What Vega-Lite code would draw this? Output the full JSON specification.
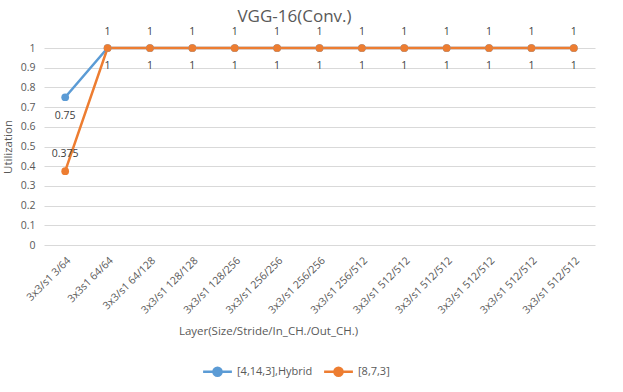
{
  "$schema": "https://vega.github.io/schema/vega-lite/v6.json",
  "autosize": {"type": "none"},
  "padding": {"left": 44, "top": 48, "right": 28, "bottom": 147},
  "width": 551,
  "height": 197,
  "background": "white",
  "title": {"text": "VGG-16(Conv.)", "fontSize": 17, "font": "Open Sans", "fontWeight": "normal", "color": "#595959", "anchor": "middle", "dx": -25, "offset": 1},
  "data": {"values": [
    {"series": "[4,14,3],Hybrid", "idx": 0, "layer": "3x3/s1 3/64", "util": 0.75},
    {"series": "[4,14,3],Hybrid", "idx": 1, "layer": "3x3s1 64/64", "util": 1},
    {"series": "[4,14,3],Hybrid", "idx": 2, "layer": "3x3/s1 64/128", "util": 1},
    {"series": "[4,14,3],Hybrid", "idx": 3, "layer": "3x3/s1 128/128", "util": 1},
    {"series": "[4,14,3],Hybrid", "idx": 4, "layer": "3x3/s1 128/256", "util": 1},
    {"series": "[4,14,3],Hybrid", "idx": 5, "layer": "3x3/s1 256/256", "util": 1},
    {"series": "[4,14,3],Hybrid", "idx": 6, "layer": "3x3/s1 256/256", "util": 1},
    {"series": "[4,14,3],Hybrid", "idx": 7, "layer": "3x3/s1 256/512", "util": 1},
    {"series": "[4,14,3],Hybrid", "idx": 8, "layer": "3x3/s1 512/512", "util": 1},
    {"series": "[4,14,3],Hybrid", "idx": 9, "layer": "3x3/s1 512/512", "util": 1},
    {"series": "[4,14,3],Hybrid", "idx": 10, "layer": "3x3/s1 512/512", "util": 1},
    {"series": "[4,14,3],Hybrid", "idx": 11, "layer": "3x3/s1 512/512", "util": 1},
    {"series": "[4,14,3],Hybrid", "idx": 12, "layer": "3x3/s1 512/512", "util": 1},
    {"series": "[8,7,3]", "idx": 0, "layer": "3x3/s1 3/64", "util": 0.375},
    {"series": "[8,7,3]", "idx": 1, "layer": "3x3s1 64/64", "util": 1},
    {"series": "[8,7,3]", "idx": 2, "layer": "3x3/s1 64/128", "util": 1},
    {"series": "[8,7,3]", "idx": 3, "layer": "3x3/s1 128/128", "util": 1},
    {"series": "[8,7,3]", "idx": 4, "layer": "3x3/s1 128/256", "util": 1},
    {"series": "[8,7,3]", "idx": 5, "layer": "3x3/s1 256/256", "util": 1},
    {"series": "[8,7,3]", "idx": 6, "layer": "3x3/s1 256/256", "util": 1},
    {"series": "[8,7,3]", "idx": 7, "layer": "3x3/s1 256/512", "util": 1},
    {"series": "[8,7,3]", "idx": 8, "layer": "3x3/s1 512/512", "util": 1},
    {"series": "[8,7,3]", "idx": 9, "layer": "3x3/s1 512/512", "util": 1},
    {"series": "[8,7,3]", "idx": 10, "layer": "3x3/s1 512/512", "util": 1},
    {"series": "[8,7,3]", "idx": 11, "layer": "3x3/s1 512/512", "util": 1},
    {"series": "[8,7,3]", "idx": 12, "layer": "3x3/s1 512/512", "util": 1}
  ]},
  "encoding": {
    "x": {
      "field": "idx", "type": "ordinal",
      "scale": {"type": "point", "padding": 0.5},
      "axis": {
        "title": "Layer(Size/Stride/In_CH./Out_CH.)",
        "labelExpr": "['3x3/s1 3/64','3x3s1 64/64','3x3/s1 64/128','3x3/s1 128/128','3x3/s1 128/256','3x3/s1 256/256','3x3/s1 256/256','3x3/s1 256/512','3x3/s1 512/512','3x3/s1 512/512','3x3/s1 512/512','3x3/s1 512/512','3x3/s1 512/512'][datum.value]",
        "labelAngle": -45,
        "labelFont": "Open Sans", "labelFontSize": 10.5, "labelColor": "#595959",
        "labelPadding": 10,
        "ticks": false, "domain": false, "grid": false,
        "titleFont": "Open Sans", "titleFontSize": 11.5, "titleFontWeight": "normal", "titleColor": "#595959",
        "titleX": 224, "titleY": 86, "titleBaseline": "middle"
      }
    },
    "y": {
      "field": "util", "type": "quantitative",
      "scale": {"domain": [0, 1]},
      "axis": {
        "title": "Utilization",
        "values": [0, 0.1, 0.2, 0.3, 0.4, 0.5, 0.6, 0.7, 0.8, 0.9, 1],
        "format": ".1~f",
        "labelFont": "Open Sans", "labelFontSize": 10.5, "labelColor": "#595959",
        "labelPadding": 9,
        "ticks": false, "domain": false,
        "gridColor": "#d9d9d9", "gridWidth": 1,
        "titleFont": "Open Sans", "titleFontSize": 11.5, "titleFontWeight": "normal", "titleColor": "#595959",
        "titleX": -36, "titleY": 98.5, "titleAlign": "center", "titleBaseline": "middle", "titleAngle": -90
      }
    },
    "color": {
      "field": "series", "type": "nominal",
      "scale": {"domain": ["[4,14,3],Hybrid", "[8,7,3]"], "range": ["#5B9BD5", "#ED7D31"]},
      "legend": {
        "title": null, "orient": "none", "direction": "horizontal",
        "legendX": 163, "legendY": 313,
        "labelFont": "Open Sans", "labelFontSize": 11, "labelColor": "#595959",
        "symbolType": "M-1.6,0L1.6,0M-0.45,0A0.45,0.45 0 1,0 0.45,0A0.45,0.45 0 1,0 -0.45,0Z",
        "symbolSize": 324, "symbolStrokeWidth": 2.5,
        "columnPadding": 6, "labelOffset": 9,
        "encode": {"symbols": {"update": {"fill": {"scale": "color", "field": "value"}, "stroke": {"scale": "color", "field": "value"}}}}
      }
    }
  },
  "layer": [
    {"mark": {"type": "line", "strokeWidth": 2.5}},
    {"mark": {"type": "point", "filled": true, "size": 60, "opacity": 1}},
    {"transform": [{"filter": "datum.series == '[4,14,3],Hybrid' && datum.util == 1"}],
     "mark": {"type": "text", "dy": -16, "font": "Open Sans", "fontSize": 10.5, "color": "#404040"},
     "encoding": {"text": {"field": "util", "type": "quantitative"}, "color": {"value": "#404040"}}},
    {"transform": [{"filter": "datum.series == '[4,14,3],Hybrid' && datum.util < 1"}],
     "mark": {"type": "text", "dy": 19, "font": "Open Sans", "fontSize": 10.5, "color": "#404040"},
     "encoding": {"text": {"field": "util", "type": "quantitative"}, "color": {"value": "#404040"}}},
    {"transform": [{"filter": "datum.series == '[8,7,3]' && datum.util == 1"}],
     "mark": {"type": "text", "dy": 18, "font": "Open Sans", "fontSize": 10.5, "color": "#404040"},
     "encoding": {"text": {"field": "util", "type": "quantitative"}, "color": {"value": "#404040"}}},
    {"transform": [{"filter": "datum.series == '[8,7,3]' && datum.util < 1"}],
     "mark": {"type": "text", "dy": -17, "font": "Open Sans", "fontSize": 10.5, "color": "#404040"},
     "encoding": {"text": {"field": "util", "type": "quantitative"}, "color": {"value": "#404040"}}}
  ],
  "config": {"view": {"stroke": null}}
}
